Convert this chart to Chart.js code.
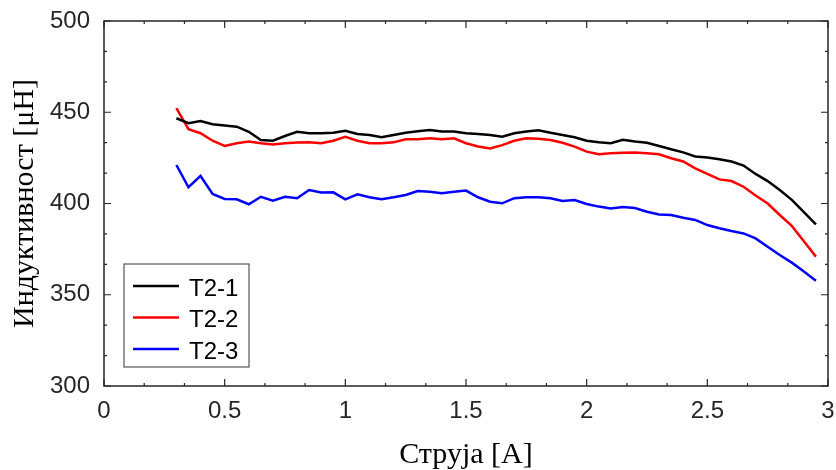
<!DOCTYPE html>
<html lang="sr">
<head>
  <meta charset="UTF-8">
  <title>Индуктивност</title>
  <script src="https://cdn.jsdelivr.net/npm/chart.js"></script>
  <style>
    html, body { margin: 0; padding: 0; background: #fff; }
    #wrap { width: 836px; height: 470px; }
  </style>
</head>
<body>
  <div id="wrap"><canvas id="lChart" width="836" height="470"></canvas></div>

  <script>
    const current = [0.3, 0.35, 0.4, 0.45, 0.5, 0.55, 0.6, 0.65, 0.7, 0.75,
      0.8, 0.85, 0.9, 0.95, 1.0, 1.05, 1.1, 1.15, 1.2, 1.25,
      1.3, 1.35, 1.4, 1.45, 1.5, 1.55, 1.6, 1.65, 1.7, 1.75,
      1.8, 1.85, 1.9, 1.95, 2.0, 2.05, 2.1, 2.15, 2.2, 2.25,
      2.3, 2.35, 2.4, 2.45, 2.5, 2.55, 2.6, 2.65, 2.7, 2.75,
      2.8, 2.85, 2.9, 2.95];

    const t21 = [446.7, 444.0, 445.2, 443.4, 442.8, 442.1, 439.3, 434.8, 434.4, 437.0,
      439.3, 438.5, 438.5, 438.8, 439.9, 438.1, 437.5, 436.3, 437.5, 438.8,
      439.6, 440.3, 439.4, 439.4, 438.5, 438.1, 437.5, 436.6, 438.5, 439.4,
      440.1, 438.8, 437.5, 436.3, 434.4, 433.5, 433.0, 434.9, 434.0, 433.3,
      431.5, 429.7, 428.0, 425.8, 425.2, 424.2, 423.0, 420.8, 416.2, 412.3,
      407.4, 402.0, 395.3, 388.5];

    const t22 = [452.2, 440.7, 438.5, 434.4, 431.5, 433.0, 433.9, 433.0, 432.4, 433.0,
      433.4, 433.5, 433.0, 434.4, 436.6, 434.4, 433.0, 433.0, 433.5, 435.2,
      435.2, 435.7, 435.2, 435.7, 433.0, 431.2, 430.2, 432.0, 434.4, 435.7,
      435.5, 434.8, 433.3, 431.2, 428.4, 427.0, 427.5, 427.8, 428.0, 427.5,
      427.0, 424.8, 423.0, 419.3, 416.2, 413.2, 412.3, 409.2, 404.4, 400.0,
      393.7, 387.7, 379.3, 370.9];

    const t23 = [421.1, 408.9, 415.1, 405.2, 402.5, 402.3, 399.6, 403.7, 401.5, 403.7,
      402.9, 407.4, 406.0, 406.1, 402.3, 405.0, 403.4, 402.3, 403.4, 404.7,
      406.8, 406.5, 405.6, 406.5, 407.1, 403.4, 401.0, 400.1, 402.9, 403.4,
      403.4, 402.9, 401.4, 401.9, 399.7, 398.3, 397.3, 398.1, 397.5, 395.5,
      394.0, 393.7, 392.2, 391.0, 388.2, 386.4, 384.9, 383.6, 380.9, 376.3,
      371.8, 367.6, 362.8, 357.7];

    const seriesNames = ['T2-1', 'T2-2', 'T2-3'];
    const xTicks = [0, 0.5, 1, 1.5, 2, 2.5, 3];
    const yTicks = [300, 350, 400, 450, 500];

    const axisColor = '#262626';
    const sansFont = '"Liberation Sans", Arial, sans-serif';
    const serifFont = '"Liberation Serif", "DejaVu Serif", serif';

    const toPoints = vals => vals.map((v, i) => ({ x: current[i], y: v }));

    // MATLAB-like box with inward ticks
    const boxPlugin = {
      id: 'box',
      afterDatasetsDraw(chart) {
        const { ctx, chartArea: a, scales: { x, y } } = chart;
        ctx.save();
        ctx.strokeStyle = axisColor;
        ctx.lineWidth = 1.5;
        ctx.strokeRect(a.left, a.top, a.right - a.left, a.bottom - a.top);
        ctx.lineWidth = 1.2;
        ctx.beginPath();
        for (let i = 0; i < xTicks.length; i++) {
          const px = x.getPixelForValue(xTicks[i]);
          ctx.moveTo(px, a.bottom); ctx.lineTo(px, a.bottom - 7);
          ctx.moveTo(px, a.top); ctx.lineTo(px, a.top + 7);
          if (i < xTicks.length - 1) {
            for (let k = 1; k < 3; k++) {
              const mx = x.getPixelForValue(xTicks[i] + k * 0.5 / 3);
              ctx.moveTo(mx, a.bottom); ctx.lineTo(mx, a.bottom - 3);
              ctx.moveTo(mx, a.top); ctx.lineTo(mx, a.top + 3);
            }
          }
        }
        for (let i = 0; i < yTicks.length; i++) {
          const py = y.getPixelForValue(yTicks[i]);
          ctx.moveTo(a.left, py); ctx.lineTo(a.left + 7, py);
          ctx.moveTo(a.right, py); ctx.lineTo(a.right - 7, py);
          if (i < yTicks.length - 1) {
            for (let k = 1; k < 3; k++) {
              const my = y.getPixelForValue(yTicks[i] + k * 50 / 3);
              ctx.moveTo(a.left, my); ctx.lineTo(a.left + 3, my);
              ctx.moveTo(a.right, my); ctx.lineTo(a.right - 3, my);
            }
          }
        }
        ctx.stroke();
        ctx.restore();
      }
    };

    // legend box inside the plot, lower left
    const legendPlugin = {
      id: 'insideLegend',
      afterDraw(chart) {
        const { ctx, chartArea: a } = chart;
        const bx = a.left + 20, by = 264, bw = 125, bh = 103;
        ctx.save();
        ctx.fillStyle = '#fff';
        ctx.fillRect(bx, by, bw, bh);
        ctx.strokeStyle = '#555';
        ctx.lineWidth = 1.2;
        ctx.strokeRect(bx, by, bw, bh);
        ctx.font = '24px ' + sansFont;
        ctx.textBaseline = 'middle';
        chart.data.datasets.forEach((ds, i) => {
          const ry = by + 22 + i * 31.5;
          ctx.strokeStyle = ds.borderColor;
          ctx.lineWidth = 2.5;
          ctx.beginPath();
          ctx.moveTo(bx + 9, ry);
          ctx.lineTo(bx + 55, ry);
          ctx.stroke();
          ctx.fillStyle = '#000';
          ctx.fillText(ds.label, bx + 65, ry + 3);
        });
        ctx.restore();
      }
    };

    new Chart(document.getElementById('lChart').getContext('2d'), {
      type: 'line',
      data: {
        datasets: [
          { label: seriesNames[0], data: toPoints(t21), borderColor: '#000000' },
          { label: seriesNames[1], data: toPoints(t22), borderColor: '#ff0000' },
          { label: seriesNames[2], data: toPoints(t23), borderColor: '#0000ff' }
        ]
      },
      options: {
        responsive: false,
        animation: false,
        layout: { padding: { top: 21, right: 8, left: 0, bottom: 0 } },
        elements: {
          line: { borderWidth: 2.5, tension: 0, fill: false },
          point: { radius: 0 }
        },
        scales: {
          x: {
            type: 'linear',
            min: 0, max: 3,
            afterFit: s => { s.height = 84; s.paddingLeft = 0; s.paddingRight = 0; },
            afterBuildTicks: s => { s.ticks = xTicks.map(v => ({ value: v })); },
            grid: { display: false, drawTicks: false },
            border: { display: false },
            ticks: {
              color: axisColor, padding: 11,
              font: { family: sansFont, size: 24 },
              callback: v => String(v)
            },
            title: {
              display: true, text: 'Струја [A]', color: '#000',
              font: { family: serifFont, size: 30, lineHeight: 1.0 },
              padding: { top: 0, bottom: 0 }
            }
          },
          y: {
            min: 300, max: 500,
            afterFit: s => { s.width = 104; s.paddingTop = 0; s.paddingBottom = 0; },
            afterBuildTicks: s => { s.ticks = yTicks.map(v => ({ value: v })); },
            grid: { display: false, drawTicks: false },
            border: { display: false },
            ticks: {
              color: axisColor, padding: 14,
              font: { family: sansFont, size: 24 }
            },
            title: {
              display: true, text: 'Индуктивност [μH]', color: '#000',
              font: { family: serifFont, size: 30, lineHeight: 1.0 },
              padding: { top: 10, bottom: 0 }
            }
          }
        },
        plugins: {
          legend: { display: false },
          tooltip: { enabled: false }
        }
      },
      plugins: [boxPlugin, legendPlugin]
    });
  </script>
</body>
</html>
